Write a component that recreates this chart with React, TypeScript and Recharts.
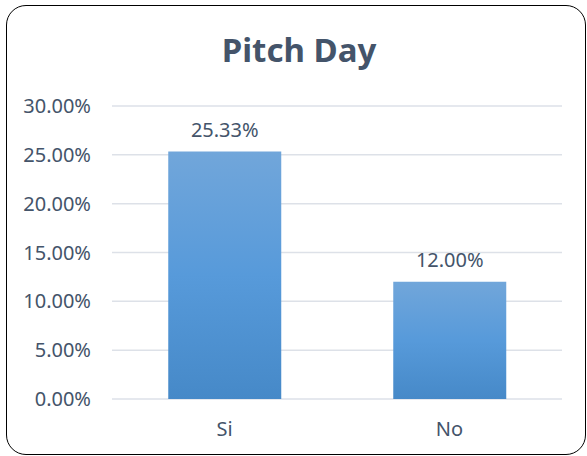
import { BarChart, Bar, XAxis, YAxis, CartesianGrid, LabelList } from "recharts";

// respuestas y porcentaje de cada una
const categorias = ["Si", "No"];
const porcentajes = [25.33, 12.0];
const ticksY = [0, 5, 10, 15, 20, 25, 30];

const datos = categorias.map((c, i) => ({ respuesta: c, valor: porcentajes[i] }));

const TEXTO = "#44546a";
const FUENTE = "'Noto Sans', 'Open Sans', sans-serif";
const fmt = (v: number) => `${Number(v).toFixed(2)}%`;

export default function App() {
  return (
    <div style={{ position: "absolute", left: 0, top: 0, width: 587, height: 456, background: "#fff", fontFamily: FUENTE }}>
      <div
        style={{
          position: "absolute", left: 6, top: 5, width: 580, height: 450,
          border: "1.5px solid #000", borderRadius: 20, boxSizing: "border-box",
        }}
      />
      <div
        style={{
          position: "absolute", left: 0, top: 33, width: 598, textAlign: "center",
          fontSize: 33, lineHeight: "33px", fontWeight: 700, color: TEXTO,
        }}
      >
        Pitch Day
      </div>
      <div style={{ position: "absolute", left: 0, top: 0 }}>
        <BarChart
          width={587}
          height={456}
          data={datos}
          margin={{ top: 106, right: 25, bottom: 27, left: 0 }}
          barCategoryGap="25%"
        >
          <defs>
            <linearGradient id="azul" x1="0" y1="0" x2="0" y2="1">
              <stop offset="0%" stopColor="#71a6da" />
              <stop offset="50%" stopColor="#579ada" />
              <stop offset="100%" stopColor="#4689c8" />
            </linearGradient>
          </defs>
          <CartesianGrid vertical={false} stroke="#dde1e8" strokeWidth={1.5} />
          <XAxis
            dataKey="respuesta"
            axisLine={false}
            tickLine={false}
            tickMargin={17}
            tick={{ fill: TEXTO, fontSize: 20, fontFamily: FUENTE }}
          />
          <YAxis
            width={112}
            domain={[0, 30]}
            ticks={ticksY}
            tickFormatter={fmt}
            axisLine={false}
            tickLine={false}
            tickMargin={15}
            tick={{ fill: TEXTO, fontSize: 20, fontFamily: FUENTE }}
          />
          <Bar dataKey="valor" fill="url(#azul)" isAnimationActive={false}>
            <LabelList
              dataKey="valor"
              position="top"
              offset={15}
              formatter={(v: any) => fmt(v)}
              style={{ fill: TEXTO, fontSize: 20, fontFamily: FUENTE }}
            />
          </Bar>
        </BarChart>
      </div>
    </div>
  );
}
